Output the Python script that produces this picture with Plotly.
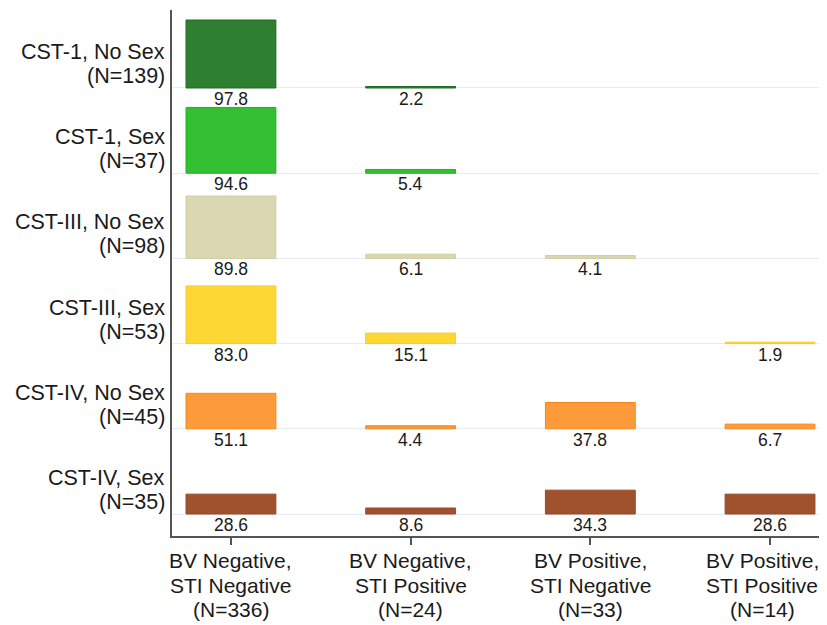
import plotly.graph_objects as go

# ---- data ----
columns = [["BV Negative,", "STI Negative", "(N=336)"],
           ["BV Negative,", "STI Positive", "(N=24)"],
           ["BV Positive,", "STI Negative", "(N=33)"],
           ["BV Positive,", "STI Positive", "(N=14)"]]
rows = [["CST-1, No Sex", "(N=139)"],
        ["CST-1, Sex", "(N=37)"],
        ["CST-III, No Sex", "(N=98)"],
        ["CST-III, Sex", "(N=53)"],
        ["CST-IV, No Sex", "(N=45)"],
        ["CST-IV, Sex", "(N=35)"]]
cst1_nosex = [97.8, 2.2, None, None]
cst1_sex = [94.6, 5.4, None, None]
cst3_nosex = [89.8, 6.1, 4.1, None]
cst3_sex = [83.0, 15.1, None, 1.9]
cst4_nosex = [51.1, 4.4, 37.8, 6.7]
cst4_sex = [28.6, 8.6, 34.3, 28.6]
series = [cst1_nosex, cst1_sex, cst3_nosex, cst3_sex, cst4_nosex, cst4_sex]

# ---- style ----
fills = ["#2f7f31", "#33c033", "#dbd7b1", "#fdd835", "#fd9a3a", "#a0522d"]
lines = ["#1f6a22", "#22b022", "#d2cda4", "#f7cc20", "#f7861c", "#96492a"]
ROW_GAP = 122.6          # vertical distance between row baselines (in % units)
PX = 0.695               # px per % unit
FONT = "Liberation Sans, Arial, sans-serif"
TXT = "#1a1a1a"

n = len(rows)
baselines = [(n - 1 - i) * ROW_GAP for i in range(n)]
xs = list(range(len(columns)))

fig = go.Figure()
annotations = []
for i, (vals, base) in enumerate(zip(series, baselines)):
    bx = [x for x, v in zip(xs, vals) if v is not None]
    bv = [v for v in vals if v is not None]
    fig.add_trace(go.Bar(
        x=bx, y=bv, base=[base] * len(bv), width=0.5,
        marker=dict(color=fills[i], line=dict(color=lines[i], width=1)),
        showlegend=False, hoverinfo="skip"))
    for x, v in zip(bx, bv):
        annotations.append(dict(x=x, y=base, text=f"{v:.1f}", showarrow=False,
                                xref="x", yref="y", yanchor="middle", yshift=-11,
                                font=dict(size=17.5, color=TXT, family=FONT)))
    for k, line_txt in enumerate(rows[i]):
        annotations.append(dict(x=0, xref="paper", y=base, yref="y",
                                text=line_txt, showarrow=False, xanchor="right",
                                yanchor="middle", xshift=-5, yshift=36 - 24 * k,
                                font=dict(size=21.5, color=TXT, family=FONT)))

for x, col in zip(xs, columns):
    # keep the right-most column label inside the visible page
    xshift = -8 if x == xs[-1] else 0
    for k, line_txt in enumerate(col):
        annotations.append(dict(x=x, xref="x", y=0, yref="paper", text=line_txt,
                                showarrow=False, yanchor="middle",
                                xshift=xshift, yshift=-24.5 - 24.5 * k,
                                font=dict(size=21, color=TXT, family=FONT)))

top = baselines[0] + 78 / PX
bottom = -22 / PX
fig.update_layout(
    width=819, height=617,
    margin=dict(l=164, r=0, t=2, b=89, autoexpand=False),
    paper_bgcolor="white", plot_bgcolor="white",
    barmode="overlay", annotations=annotations,
    xaxis=dict(range=[-0.328, 3.317], tickvals=xs, ticktext=[""] * len(xs),
               showgrid=False, zeroline=False, showline=True,
               linecolor="#555555", linewidth=2, ticks="outside",
               ticklen=7, tickcolor="#555555", tickwidth=1.5),
    yaxis=dict(range=[bottom, top], tickvals=baselines,
               showticklabels=False, showgrid=True, gridcolor="#e4edf1",
               gridwidth=1, zeroline=False, showline=True,
               linecolor="#555555", linewidth=2, ticks=""),
)

fig.write_html("out.html")
